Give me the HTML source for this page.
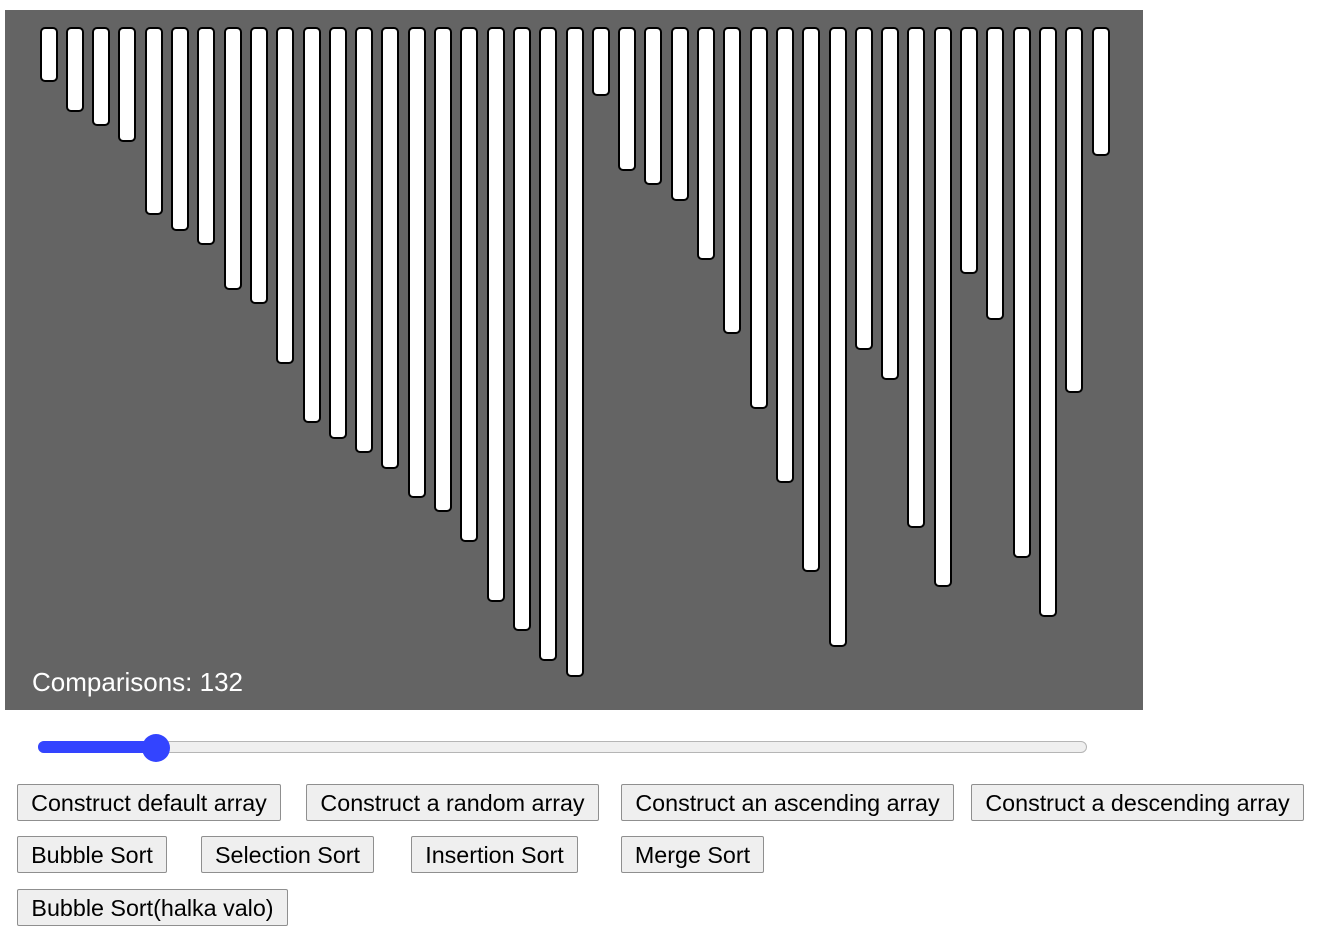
<!DOCTYPE html>
<html><head><meta charset="utf-8"><style>
body{margin:0;background:#fff;width:1331px;height:939px;position:relative;overflow:hidden;font-family:"Liberation Sans",sans-serif}
#stage{position:absolute;left:5px;top:10px;width:1138px;height:700px;background:#646464}
.bar{position:absolute;background:#fff;border:2px solid #000;border-radius:5px;box-sizing:border-box;width:18px}
#cmp{position:absolute;left:27px;top:657px;color:#fff;font-size:26px}
#track{position:absolute;left:38px;top:741px;width:1049px;height:12px;background:#efefef;border:1px solid #b5b5b5;border-radius:7px;box-sizing:border-box}
#fill{position:absolute;left:38px;top:741px;width:120px;height:12px;background:#3344ff;border-radius:7px}
#thumb{position:absolute;left:142px;top:734px;width:28px;height:28px;border-radius:50%;background:#3344ff}
.btn{position:absolute;height:37px;background:#efefef;border:1px solid #8f8f8f;border-radius:2px;box-sizing:border-box;font-size:23.3px;color:#000;line-height:34px;text-align:center;font-family:"Liberation Sans",sans-serif;padding:0;white-space:nowrap}
</style></head><body>
<div id="stage">
<div id="cmp">Comparisons: 132</div>
</div>
<div id="track"></div>
<div id="fill"></div>
<div id="thumb"></div>
<button class="btn" style="left:17px;top:784px;width:264px">Construct default array</button>
<button class="btn" style="left:306px;top:784px;width:293px">Construct a random array</button>
<button class="btn" style="left:621px;top:784px;width:333px">Construct an ascending array</button>
<button class="btn" style="left:971px;top:784px;width:333px">Construct a descending array</button>
<button class="btn" style="left:17px;top:836px;width:150px">Bubble Sort</button>
<button class="btn" style="left:201px;top:836px;width:173px">Selection Sort</button>
<button class="btn" style="left:411px;top:836px;width:167px">Insertion Sort</button>
<button class="btn" style="left:621px;top:836px;width:143px">Merge Sort</button>
<button class="btn" style="left:17px;top:889px;width:271px">Bubble Sort(halka valo)</button>
<script>
const values=[53,83,97,113,186,202,216,261,275,335,394,410,424,440,469,483,513,573,602,632,648,67,142,156,172,231,305,380,454,543,618,321,351,499,558,245,291,529,588,364,127];
const stage=document.getElementById('stage');
const x0=34.5, step=26.3, top0=17;
function xPos(i){return x0+i*step;}
function hScale(v){return v+2;}
values.forEach((v,i)=>{
  const b=document.createElement('div');
  b.className='bar';
  
  
  b.style.left=xPos(i)+'px';
  b.style.top=top0+'px';
  b.style.height=hScale(v)+'px';
  stage.appendChild(b);
});
</script>
</body></html>
